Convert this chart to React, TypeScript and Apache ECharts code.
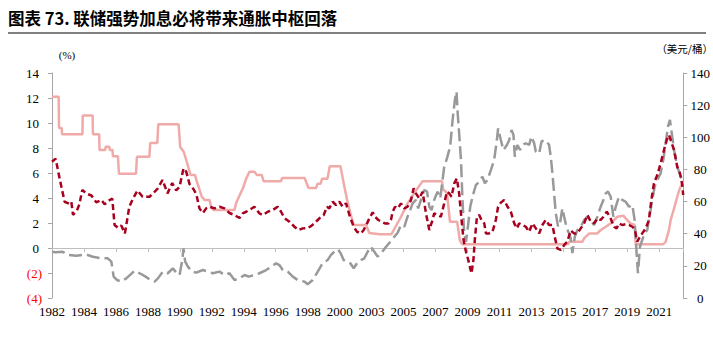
import React, { useEffect, useRef } from 'react';
import * as echarts from 'echarts';

const START_YEAR = 1982;
const X_MAX = 41.475; // years after 1982-01
const X_STEP = 2.1;

const xTickLabels = ['1982', '1984', '1986', '1988', '1990', '1992', '1994', '1996', '1998', '2000',
  '2003', '2005', '2007', '2009', '2011', '2013', '2015', '2017', '2019', '2021'];

// Policy rate (%), left axis
const fedRate: [number, number][] = [
  [1982.00, 12.1], [1982.44, 12.1], [1982.46, 9.6], [1982.64, 9.6], [1982.66, 9.1], [1984.00, 9.1],
  [1984.02, 10.6], [1984.67, 10.6], [1984.69, 9.1], [1985.10, 9.1], [1985.12, 7.85], [1985.50, 7.85],
  [1985.52, 8.1], [1985.77, 8.1], [1985.79, 7.85], [1985.98, 7.85], [1986.00, 7.35], [1986.33, 7.35],
  [1986.40, 5.95], [1987.52, 5.95], [1987.58, 7.3], [1988.40, 7.3], [1988.45, 8.4], [1988.92, 8.4],
  [1988.98, 9.9], [1990.32, 9.9], [1990.42, 8.1], [1990.65, 7.7], [1990.88, 6.8], [1991.10, 5.85],
  [1991.40, 5.85], [1991.48, 5.45], [1991.66, 4.8], [1991.84, 4.1], [1992.02, 3.85], [1992.35, 3.85],
  [1992.46, 3.3], [1992.60, 3.05], [1993.99, 3.05], [1994.10, 3.6], [1994.32, 4.2], [1994.55, 4.8],
  [1994.76, 5.55], [1994.97, 6.1], [1995.30, 6.1], [1995.45, 5.85], [1995.78, 5.85], [1995.90, 5.35],
  [1997.05, 5.35], [1997.12, 5.6], [1998.60, 5.6], [1998.85, 4.8], [1999.35, 4.8], [1999.45, 5.15],
  [1999.65, 5.15], [1999.75, 5.55], [2000.10, 5.55], [2000.25, 6.55], [2000.95, 6.55], [2001.21, 4.9],
  [2001.39, 3.85], [2001.60, 2.8], [2001.82, 1.85], [2002.63, 1.85], [2002.85, 1.2], [2003.50, 1.1],
  [2004.30, 1.1], [2004.93, 2.5], [2005.36, 3.55], [2005.80, 4.4], [2006.35, 5.35], [2007.62, 5.35],
  [2007.70, 4.7], [2007.95, 4.4], [2008.15, 2.1], [2008.62, 2.1], [2008.80, 0.6], [2008.95, 0.3],
  [2015.90, 0.3], [2016.00, 0.5], [2016.85, 0.5], [2016.96, 0.77], [2017.30, 1.17], [2017.83, 1.17],
  [2018.05, 1.44], [2018.38, 1.7], [2018.71, 1.97], [2018.93, 2.24], [2019.15, 2.5], [2019.55, 2.58],
  [2019.69, 2.37], [2020.00, 1.97], [2020.28, 1.84], [2020.35, 0.3], [2022.16, 0.3], [2022.32, 0.5],
  [2022.54, 1.45], [2022.65, 2.25], [2022.87, 3.15], [2023.08, 4.1], [2023.26, 4.8], [2023.47, 5.3],
];

// CPI YoY (%), left axis
const cpiYoY: [number, number][] = [
  [1982.00, 6.9], [1982.24, 7.15], [1982.51, 5.5], [1982.83, 3.7], [1983.12, 3.55], [1983.27, 3.7],
  [1983.38, 2.65], [1983.64, 3.0], [1983.80, 3.5], [1983.99, 4.65], [1984.26, 4.35], [1984.59, 4.2],
  [1984.91, 3.65], [1985.24, 3.85], [1985.46, 3.5], [1985.79, 3.84], [1985.96, 3.95], [1986.11, 1.84],
  [1986.33, 1.62], [1986.55, 1.8], [1986.79, 1.17], [1987.08, 3.3], [1987.32, 3.95], [1987.62, 4.6],
  [1987.95, 4.1], [1988.41, 4.1], [1988.67, 4.4], [1988.94, 4.75], [1989.26, 5.44], [1989.59, 4.37],
  [1989.90, 5.2], [1990.16, 4.6], [1990.38, 4.9], [1990.64, 6.37], [1990.82, 6.1], [1991.04, 5.1],
  [1991.30, 4.7], [1991.48, 4.3], [1991.69, 3.17], [1991.91, 2.8], [1992.13, 3.17], [1992.35, 3.3],
  [1992.68, 3.17], [1993.01, 3.3], [1993.33, 3.17], [1993.66, 2.8], [1993.99, 2.64], [1994.32, 2.4],
  [1994.53, 2.77], [1994.76, 2.9], [1994.97, 3.04], [1995.30, 3.3], [1995.63, 2.77], [1995.85, 2.64],
  [1996.18, 2.9], [1996.50, 3.04], [1996.83, 3.3], [1997.05, 2.9], [1997.27, 2.4], [1997.60, 2.1],
  [1997.93, 1.7], [1998.19, 1.44], [1998.47, 1.57], [1998.80, 1.6], [1999.02, 1.75], [1999.24, 1.97],
  [1999.46, 2.24], [1999.68, 2.5], [1999.85, 2.64], [2000.07, 3.3], [2000.22, 3.17], [2000.44, 3.7],
  [2000.66, 3.44], [2000.88, 3.7], [2001.10, 3.3], [2001.32, 3.57], [2001.54, 2.64], [2001.82, 1.7],
  [2002.04, 1.3], [2002.30, 1.17], [2002.48, 1.44], [2002.70, 1.97], [2002.85, 2.37], [2003.07, 2.85],
  [2003.22, 2.5], [2003.44, 2.24], [2003.66, 2.1], [2003.88, 1.97], [2004.10, 1.97], [2004.27, 2.24],
  [2004.38, 2.9], [2004.54, 3.3], [2004.71, 3.17], [2004.93, 3.57], [2005.15, 3.17], [2005.36, 3.3],
  [2005.59, 3.84], [2005.76, 4.77], [2005.91, 4.37], [2006.13, 3.97], [2006.35, 4.5], [2006.57, 2.77],
  [2006.79, 1.44], [2007.00, 2.24], [2007.11, 2.77], [2007.33, 2.64], [2007.55, 2.5], [2007.77, 3.57],
  [2007.95, 4.5], [2008.10, 4.37], [2008.25, 4.1], [2008.43, 5.17], [2008.60, 5.57], [2008.75, 4.37],
  [2008.91, 2.24], [2009.04, 0.64], [2009.20, -0.3], [2009.35, -0.96], [2009.48, -1.63], [2009.56, -2.03],
  [2009.69, -0.96], [2009.78, 0.64], [2009.92, 2.5], [2010.07, 2.64], [2010.22, 2.24], [2010.40, 1.97],
  [2010.51, 1.17], [2010.72, 1.17], [2010.94, 1.3], [2011.16, 2.24], [2011.31, 3.3], [2011.49, 3.63],
  [2011.71, 3.84], [2011.93, 3.3], [2012.15, 2.9], [2012.37, 1.97], [2012.55, 1.57], [2012.69, 1.97],
  [2012.91, 1.84], [2013.13, 1.7], [2013.35, 1.3], [2013.57, 1.97], [2013.79, 1.57], [2014.01, 1.17],
  [2014.22, 1.84], [2014.44, 2.24], [2014.66, 1.84], [2014.88, 1.84], [2015.03, 0.9], [2015.21, -0.05],
  [2015.43, -0.15], [2015.69, 0.3], [2015.86, 0.5], [2016.08, 1.4], [2016.30, 1.17], [2016.52, 1.17],
  [2016.74, 1.57], [2016.96, 1.97], [2017.18, 2.64], [2017.40, 2.1], [2017.62, 1.97], [2017.83, 2.37],
  [2018.05, 2.24], [2018.23, 2.5], [2018.45, 2.9], [2018.66, 2.5], [2018.93, 1.7], [2019.10, 1.57],
  [2019.25, 1.97], [2019.47, 1.84], [2019.69, 1.9], [2019.91, 1.84], [2020.13, 1.7], [2020.30, 1.44],
  [2020.45, 0.5], [2020.63, 0.9], [2020.78, 1.17], [2021.01, 1.57], [2021.22, 2.24], [2021.38, 3.84],
  [2021.55, 5.17], [2021.77, 5.84], [2021.99, 6.77], [2022.21, 7.84], [2022.39, 8.64], [2022.54, 9.04],
  [2022.69, 8.5], [2022.87, 7.84], [2023.08, 6.5], [2023.26, 5.97], [2023.41, 5.04], [2023.47, 4.24],
];

// Oil price (USD/bbl), right axis
const oilPrice: [number, number][] = [
  [1982.00, 28.8], [1982.24, 28.5], [1982.70, 28.8], [1983.05, 26.8], [1983.58, 26.3], [1984.26, 27.0],
  [1984.69, 25.7], [1985.24, 24.7], [1985.66, 24.7], [1985.90, 22.6], [1986.05, 13.3], [1986.27, 11.2],
  [1986.55, 10.2], [1986.88, 12.2], [1987.43, 17.0], [1987.76, 15.4], [1988.15, 13.3], [1988.41, 11.6],
  [1988.74, 10.2], [1988.96, 12.2], [1989.28, 16.4], [1989.61, 15.4], [1989.94, 18.5], [1990.20, 15.4],
  [1990.38, 14.3], [1990.56, 23.6], [1990.64, 30.9], [1990.75, 22.6], [1990.93, 19.5], [1991.21, 16.4],
  [1991.48, 15.8], [1991.91, 17.4], [1992.24, 16.4], [1992.57, 15.4], [1993.01, 16.4], [1993.33, 14.3],
  [1993.66, 15.4], [1993.99, 11.2], [1994.32, 12.2], [1994.65, 14.3], [1994.93, 13.3], [1995.30, 14.3],
  [1995.63, 15.4], [1996.07, 17.4], [1996.40, 19.5], [1996.73, 21.6], [1996.94, 20.5], [1997.16, 17.4],
  [1997.49, 16.4], [1997.82, 13.3], [1998.14, 11.2], [1998.58, 10.2], [1998.80, 8.6], [1999.13, 11.2],
  [1999.46, 16.4], [1999.78, 21.6], [2000.11, 23.6], [2000.33, 26.8], [2000.55, 28.8], [2000.77, 30.3],
  [2000.95, 28.2], [2001.16, 23.6], [2001.39, 22.6], [2001.60, 21.6], [2001.82, 18.5], [2002.04, 21.6],
  [2002.30, 23.6], [2002.52, 24.7], [2002.74, 28.8], [2002.96, 31.9], [2003.18, 28.8], [2003.39, 25.7],
  [2003.66, 28.2], [2003.95, 31.9], [2004.23, 35.0], [2004.49, 38.1], [2004.71, 40.6], [2004.93, 45.4],
  [2005.15, 44.4], [2005.36, 50.6], [2005.54, 54.8], [2005.69, 58.9], [2005.91, 61.0], [2006.06, 55.8],
  [2006.24, 61.0], [2006.46, 67.2], [2006.64, 66.2], [2006.79, 56.8], [2006.94, 54.8], [2007.11, 61.0],
  [2007.33, 66.2], [2007.51, 62.0], [2007.77, 81.7], [2007.95, 86.9], [2008.16, 94.2], [2008.32, 110.8],
  [2008.47, 123.2], [2008.58, 128.4], [2008.64, 117.0], [2008.75, 102.5], [2008.87, 85.9], [2008.97, 61.0],
  [2009.08, 40.3], [2009.20, 35.0], [2009.30, 42.3], [2009.48, 56.8], [2009.63, 63.0], [2009.85, 70.3],
  [2010.07, 72.4], [2010.28, 75.5], [2010.44, 71.4], [2010.61, 73.4], [2010.84, 79.7], [2011.05, 85.9],
  [2011.23, 98.3], [2011.31, 105.6], [2011.49, 98.3], [2011.66, 92.1], [2011.89, 95.2], [2012.04, 98.3],
  [2012.19, 104.5], [2012.32, 101.4], [2012.41, 87.9], [2012.58, 95.2], [2012.76, 92.1], [2012.91, 95.2],
  [2013.13, 96.3], [2013.35, 95.2], [2013.50, 100.4], [2013.68, 96.3], [2013.79, 91.0], [2014.01, 90.0],
  [2014.16, 97.3], [2014.33, 98.3], [2014.51, 97.3], [2014.66, 95.2], [2014.77, 87.9], [2014.88, 77.6],
  [2014.99, 65.1], [2015.10, 52.7], [2015.25, 44.4], [2015.38, 46.5], [2015.53, 55.8], [2015.65, 50.6],
  [2015.82, 43.4], [2015.97, 40.3], [2016.08, 37.1], [2016.19, 28.0], [2016.35, 38.1], [2016.52, 42.3],
  [2016.74, 44.4], [2016.96, 48.5], [2017.18, 50.6], [2017.40, 48.5], [2017.62, 45.4], [2017.83, 50.6],
  [2018.05, 56.8], [2018.23, 61.0], [2018.38, 65.1], [2018.53, 66.2], [2018.71, 63.0], [2018.88, 50.6],
  [2019.04, 56.8], [2019.25, 63.0], [2019.47, 61.0], [2019.69, 59.9], [2019.91, 56.8], [2020.13, 57.9],
  [2020.28, 48.5], [2020.41, 27.8], [2020.50, 15.4], [2020.63, 31.9], [2020.78, 36.1], [2020.94, 40.3],
  [2021.11, 42.3], [2021.29, 52.7], [2021.44, 61.0], [2021.60, 69.3], [2021.77, 73.4], [2021.99, 77.6],
  [2022.16, 85.9], [2022.32, 96.3], [2022.47, 106.6], [2022.60, 110.8], [2022.69, 104.5], [2022.87, 92.1],
  [2023.08, 81.7], [2023.31, 75.5], [2023.47, 72.4],
];

const titleText = '图表 73. 联储强势加息必将带来通胀中枢回落';
const leftUnit = '(%)';
const rightUnit = '（美元/桶）';

const SERIF = '"Liberation Serif", "Times New Roman", serif';
const CJK = '"Noto Sans CJK SC", sans-serif';
const AXIS_GREY = '#A6A6A6';

const toXY = (pts: [number, number][]) => pts.map(([t, v]) => [t - START_YEAR, v]);

export default function App() {
  const ref = useRef<HTMLDivElement>(null);
  useEffect(() => {
    if (!ref.current) return;
    const chart = echarts.init(ref.current, null, { renderer: 'svg' });
    const option: any = {
      animation: false,
      backgroundColor: '#ffffff',
      grid: { left: 52, right: 29, top: 73, bottom: 45, containLabel: false },
      graphic: [
        {
          type: 'text', x: 8, y: 18,
          style: { text: titleText, font: `bold 16.5px ${CJK}`, fill: '#000', textAlign: 'left', textVerticalAlign: 'middle' },
        },
        { type: 'line', shape: { x1: 8, y1: 33, x2: 706, y2: 33 }, style: { stroke: '#000', lineWidth: 1 } },
        {
          type: 'text', x: 67, y: 55,
          style: { text: leftUnit, font: `11px ${SERIF}`, fill: '#000', textAlign: 'center', textVerticalAlign: 'middle' },
        },
        {
          type: 'text', x: 713, y: 48,
          style: { text: rightUnit, font: `10.5px ${CJK}`, fill: '#000', textAlign: 'right', textVerticalAlign: 'middle' },
        },
      ],
      xAxis: [
        {
          type: 'value', min: 0, max: X_MAX, interval: X_STEP, position: 'bottom',
          axisLine: { show: false, onZero: false }, axisTick: { show: false }, splitLine: { show: false },
          axisLabel: {
            show: true, margin: 7, fontSize: 13, fontFamily: SERIF, color: '#000', showMaxLabel: false,
            formatter: (v: number) => {
              const i = Math.round(v / X_STEP);
              if (Math.abs(v - i * X_STEP) > 0.01) return '';
              return xTickLabels[i] ?? '';
            },
          },
        },
        {
          type: 'value', min: 0, max: X_MAX, interval: X_STEP, position: 'bottom',
          axisLine: { show: true, onZero: true, onZeroAxisIndex: 0, lineStyle: { color: '#BFBFBF', width: 1 } },
          axisTick: { show: true, length: 4, inside: false, lineStyle: { color: '#BFBFBF' } },
          axisLabel: { show: false }, splitLine: { show: false },
        },
      ],
      yAxis: [
        {
          type: 'value', min: -4, max: 14, interval: 2, position: 'left',
          axisLine: { show: true, onZero: false, lineStyle: { color: AXIS_GREY, width: 1 } },
          axisTick: { show: true, length: 4, inside: false, lineStyle: { color: AXIS_GREY } },
          splitLine: { show: false },
          axisLabel: {
            margin: 10, fontSize: 13, fontFamily: SERIF, color: '#000', align: 'right',
            formatter: (v: number) => (v < 0 ? `{neg|(${-v})}` : `{pos|${v}}`),
            rich: {
              neg: { color: '#FF0000', fontSize: 13, fontFamily: SERIF },
              pos: { color: '#000', fontSize: 13, fontFamily: SERIF, padding: [0, 3, 0, 0] },
            },
          },
        },
        {
          type: 'value', min: 0, max: 140, interval: 20, position: 'right',
          axisLine: { show: true, onZero: false, lineStyle: { color: AXIS_GREY, width: 1 } },
          axisTick: { show: true, length: 4, inside: false, lineStyle: { color: AXIS_GREY } },
          splitLine: { show: false },
          axisLabel: { margin: 17, fontSize: 13, fontFamily: SERIF, color: '#000', align: 'center' },
        },
      ],
      series: [
        {
          name: '联邦基金利率', type: 'line', xAxisIndex: 0, yAxisIndex: 0, data: toXY(fedRate),
          showSymbol: false, symbol: 'none', lineStyle: { color: '#F0AAA8', width: 2.5 }, z: 2,
        },
        {
          name: 'WTI原油', type: 'line', xAxisIndex: 0, yAxisIndex: 1, data: toXY(oilPrice),
          showSymbol: false, symbol: 'none', lineStyle: { color: '#999999', width: 2.5, type: [13, 5] }, z: 3,
        },
        {
          name: 'CPI同比', type: 'line', xAxisIndex: 0, yAxisIndex: 0, data: toXY(cpiYoY),
          showSymbol: false, symbol: 'none', lineStyle: { color: '#A8001F', width: 2.5, type: [6, 3.5] }, z: 4,
        },
      ],
    };
    chart.setOption(option);
    return () => chart.dispose();
  }, []);
  return (
    <div
      ref={ref}
      style={{ position: 'absolute', left: 0, top: 0, width: 713, height: 343, background: '#fff' }}
    />
  );
}
